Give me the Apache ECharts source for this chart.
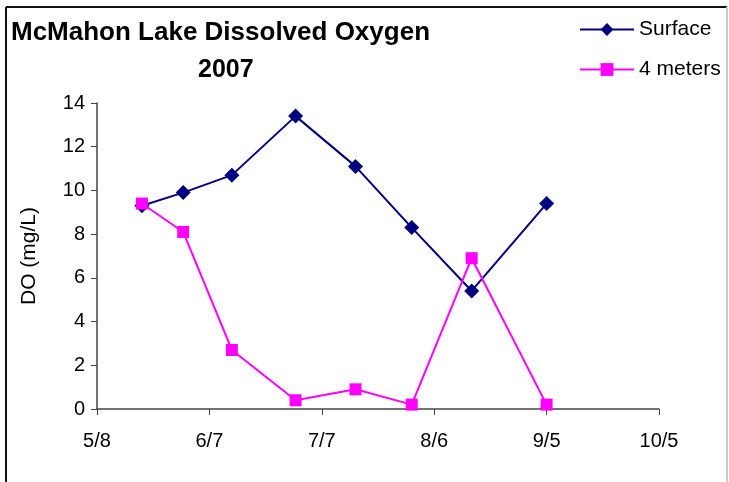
<!DOCTYPE html>
<html>
<head>
<meta charset="utf-8">
<script src="https://cdn.jsdelivr.net/npm/echarts@6/dist/echarts.min.js"></script>
<style>
  html, body { margin: 0; padding: 0; background: #fff; }
  #chart { width: 729px; height: 482px; }
</style>
</head>
<body>
<div id="chart"></div>
<script>
// sampling dates (2007) and DO readings in mg/L
var sampleDates = ['5/20', '5/31', '6/13', '6/30', '7/16', '7/31', '8/16', '9/5'];
var surfaceDO = [9.3, 9.9, 10.7, 13.4, 11.1, 8.3, 5.4, 9.4];
var fourMetersDO = [9.4, 8.1, 2.7, 0.4, 0.9, 0.2, 6.9, 0.2];
// x tick labels, one every 30 days from 5/8
var xTickLabels = ['5/8', '6/7', '7/7', '8/6', '9/5', '10/5'];

var FONT = '"Liberation Sans", Arial, sans-serif';
var DAY = 24 * 3600 * 1000;
var start = Date.UTC(2007, 4, 8);

// days since 5/8 for each sample
function dayOf(s) {
  var p = s.split('/');
  return Math.round((Date.UTC(2007, +p[0] - 1, +p[1]) - start) / DAY);
}

function pairs(vals) {
  return sampleDates.map(function (d, i) { return [dayOf(d), vals[i]]; });
}

var chart = echarts.init(document.getElementById('chart'));

chart.setOption({
  backgroundColor: '#fff',
  animation: false,
  textStyle: { fontFamily: FONT },
  title: [
    {
      text: 'McMahon Lake Dissolved Oxygen',
      left: 6, top: 15,
      textStyle: { fontFamily: FONT, fontSize: 26, fontWeight: 'bold', color: '#000' }
    },
    {
      text: '2007',
      left: 193, top: 53,
      textStyle: { fontFamily: FONT, fontSize: 25, fontWeight: 'bold', color: '#000' }
    }
  ],
  legend: {
    orient: 'vertical',
    left: 574, top: 14,
    itemWidth: 54, itemHeight: 16, itemGap: 19,
    textStyle: { fontFamily: FONT, fontSize: 21, color: '#000' },
    data: ['Surface', '4 meters']
  },
  graphic: [
    { type: 'line', shape: { x1: 6, y1: 7, x2: 727, y2: 7 }, style: { stroke: '#111', lineWidth: 2 } },
    { type: 'line', shape: { x1: 6, y1: 7, x2: 6, y2: 482 }, style: { stroke: '#111', lineWidth: 2 } },
    { type: 'line', shape: { x1: 727, y1: 7, x2: 727, y2: 482 }, style: { stroke: '#ccc', lineWidth: 2 } }
  ],
  grid: { left: 97, right: 70, top: 103, bottom: 73 },
  xAxis: {
    type: 'value',
    min: 0, max: 150, interval: 30,
    axisLine: { lineStyle: { color: '#444', width: 1.5 } },
    axisTick: { show: true, inside: false, length: 6, lineStyle: { color: '#444' } },
    splitLine: { show: false },
    axisLabel: {
      margin: 22, fontFamily: FONT, fontSize: 20, color: '#000',
      formatter: function (v) { return xTickLabels[Math.round(v / 30)] || ''; }
    }
  },
  yAxis: {
    type: 'value',
    min: 0, max: 14, interval: 2,
    name: 'DO (mg/L)',
    nameLocation: 'middle',
    nameGap: 57,
    nameTextStyle: { fontFamily: FONT, fontSize: 21, color: '#000' },
    axisLine: { show: true, lineStyle: { color: '#444', width: 1.5 } },
    axisTick: { show: true, inside: false, length: 6, lineStyle: { color: '#444' } },
    splitLine: { show: false },
    axisLabel: { margin: 12, fontFamily: FONT, fontSize: 20, color: '#000' }
  },
  series: [
    {
      name: 'Surface',
      type: 'line',
      data: pairs(surfaceDO),
      symbol: 'diamond',
      symbolSize: 15,
      itemStyle: { color: '#000080' },
      lineStyle: { color: '#000080', width: 2 }
    },
    {
      name: '4 meters',
      type: 'line',
      data: pairs(fourMetersDO),
      symbol: 'rect',
      symbolSize: 12,
      itemStyle: { color: '#FF00FF' },
      lineStyle: { color: '#FF00FF', width: 2 }
    }
  ]
});
</script>
</body>
</html>
